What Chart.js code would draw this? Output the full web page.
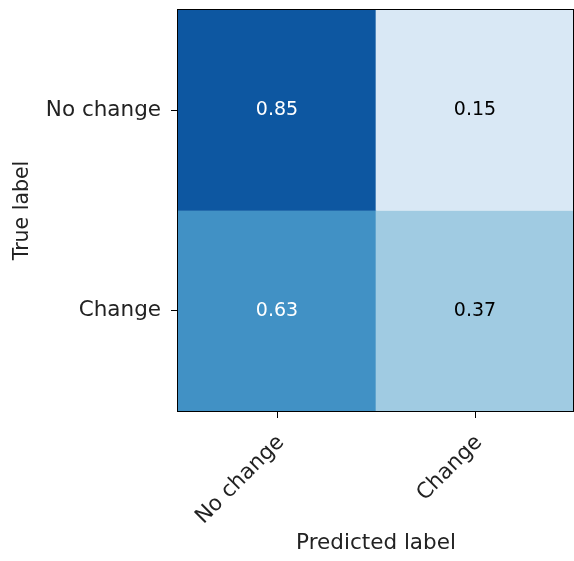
<!DOCTYPE html>
<html>
<head>
<meta charset="utf-8">
<title>Confusion matrix</title>
<script src="https://cdn.jsdelivr.net/npm/chart.js@4.4.1/dist/chart.umd.min.js"></script>
<style>
  html, body { margin: 0; padding: 0; background: #ffffff; }
  #wrap { width: 574px; height: 561px; }
</style>
</head>
<body>
<div id="wrap"><canvas id="cm" width="574" height="561"></canvas></div>
<script>
// Class names along each axis
const trueLabels = ['No change', 'Change'];
const predictedLabels = ['No change', 'Change'];
// Normalized confusion matrix: rows = true label, columns = predicted label
const matrix = [
  [0.85, 0.15],
  [0.63, 0.37]
];

// Matplotlib "Blues" colormap stops
const bluesStops = [
  [0.000, [247, 251, 255]],
  [0.125, [222, 235, 247]],
  [0.250, [198, 219, 239]],
  [0.375, [158, 202, 225]],
  [0.500, [107, 174, 214]],
  [0.625, [66, 146, 198]],
  [0.750, [33, 113, 181]],
  [0.875, [8, 81, 156]],
  [1.000, [8, 48, 107]]
];
function blues(t) {
  t = Math.max(0, Math.min(1, t));
  for (let k = 1; k < bluesStops.length; k++) {
    const [t1, c1] = bluesStops[k];
    const [t0, c0] = bluesStops[k - 1];
    if (t <= t1) {
      const f = (t - t0) / (t1 - t0);
      const c = c0.map((v, i) => Math.round(v + (c1[i] - v) * f));
      return `rgb(${c[0]},${c[1]},${c[2]})`;
    }
  }
  return 'rgb(8,48,107)';
}

const nRows = trueLabels.length;
// Row i (counted from the top) spans [nRows-1-i, nRows-i] on the value axis
const rowCenters = trueLabels.map((_, i) => nRows - 1 - i + 0.5);
const maxVal = Math.max(...matrix.flat());
const FAMILY = '"DejaVu Sans", sans-serif';
const TICK_FONT = { family: FAMILY, size: 21.5 };
const X_TITLE_FONT = { family: FAMILY, size: 21.5 };
const Y_TITLE_FONT = { family: FAMILY, size: 20.5 };
const CELL_FONT_SIZE = 19;
const TEXT = '#222222';

const datasets = trueLabels.map((label, i) => ({
  label,
  data: predictedLabels.map(() => [nRows - 1 - i, nRows - i]),
  backgroundColor: matrix[i].map(v => blues(v)),
  borderWidth: 0,
  barPercentage: 1,
  categoryPercentage: 1,
  grouped: false
}));

// Writes each cell's value at its centre and frames the plot area
const cellText = {
  id: 'cellText',
  afterDatasetsDraw(chart) {
    const { ctx, chartArea } = chart;
    ctx.save();
    ctx.font = `${CELL_FONT_SIZE}px ${FAMILY}`;
    ctx.textAlign = 'center';
    ctx.textBaseline = 'middle';
    chart.data.datasets.forEach((ds, i) => {
      chart.getDatasetMeta(i).data.forEach((bar, j) => {
        const v = matrix[i][j];
        const cy = (bar.y + bar.base) / 2;
        ctx.fillStyle = v > maxVal / 2 ? '#ffffff' : '#000000';
        ctx.fillText(v.toFixed(2), bar.x, cy);
      });
    });
    ctx.strokeStyle = '#000000';
    ctx.lineWidth = 1;
    ctx.strokeRect(Math.round(chartArea.left) - 0.5, Math.round(chartArea.top) - 0.5,
      Math.round(chartArea.right - chartArea.left), Math.round(chartArea.bottom - chartArea.top) + 1);
    ctx.restore();
  }
};

new Chart(document.getElementById('cm'), {
  type: 'bar',
  data: { labels: predictedLabels, datasets },
  plugins: [cellText],
  options: {
    responsive: false,
    animation: false,
    layout: { padding: { top: 10, right: 0, left: 0, bottom: 0 } },
    plugins: { legend: { display: false }, tooltip: { enabled: false } },
    scales: {
      x: {
        type: 'category',
        offset: true,
        afterFit(scale) { scale.height = 150; scale.paddingLeft = 0; scale.paddingRight = 0; },
        grid: { offset: false, drawOnChartArea: false, drawTicks: true, tickLength: 7, tickColor: '#000000', tickWidth: 1 },
        border: { display: false },
        ticks: { font: TICK_FONT, color: TEXT, minRotation: 45, maxRotation: 45, padding: 12, labelOffset: 4, autoSkip: false },
        title: { display: true, text: 'Predicted label', font: X_TITLE_FONT, color: TEXT, padding: { top: 0, bottom: 5 } }
      },
      y: {
        type: 'linear',
        min: 0,
        max: nRows,
        afterFit(scale) { scale.width = 178; scale.paddingTop = 0; scale.paddingBottom = 0; },
        afterBuildTicks(scale) { scale.ticks = rowCenters.map(v => ({ value: v })); },
        grid: { drawOnChartArea: false, drawTicks: true, tickLength: 7, tickColor: '#000000', tickWidth: 1 },
        border: { display: false },
        ticks: {
          font: TICK_FONT, color: TEXT, padding: 10,
          callback(value) {
            const i = rowCenters.indexOf(value);
            return i >= 0 ? trueLabels[i] : '';
          }
        },
        title: { display: true, text: 'True label', font: Y_TITLE_FONT, color: TEXT, padding: { top: 10, bottom: 0 } }
      }
    }
  }
});
</script>
</body>
</html>
